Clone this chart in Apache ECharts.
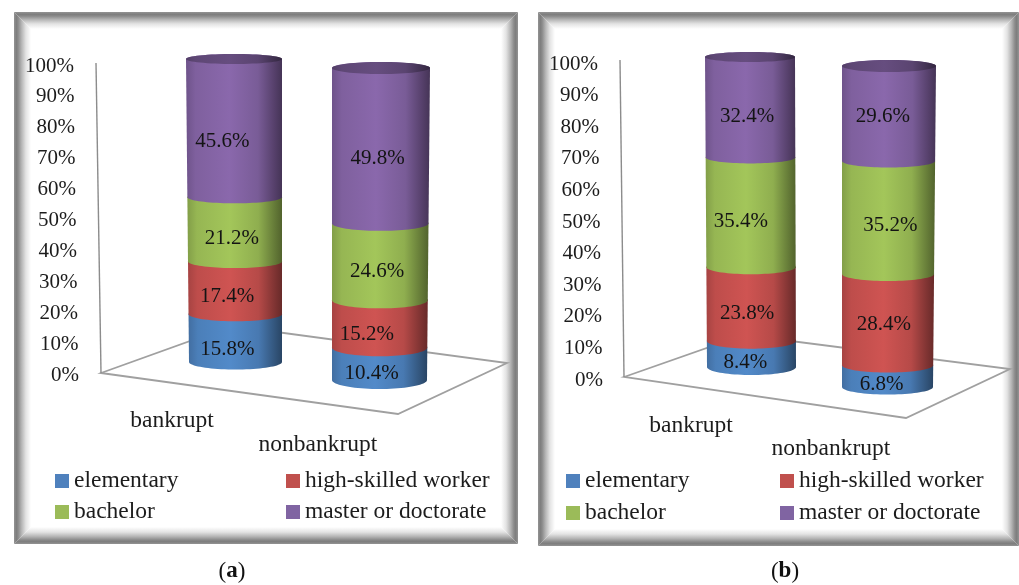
<!DOCTYPE html>
<html><head><meta charset="utf-8">
<style>html,body{margin:0;padding:0;background:#fff}#c{width:1019px;height:585px}</style>
<script src="https://cdn.jsdelivr.net/npm/echarts@6/dist/echarts.min.js"></script>
</head><body><div id="c"></div>
<script>
// ---------- data ----------
const categories = ['bankrupt', 'nonbankrupt'];
const seriesNames = ['elementary', 'high-skilled worker', 'bachelor', 'master or doctorate'];
const tickLabels = ['0%','10%','20%','30%','40%','50%','60%','70%','80%','90%','100%'];
const aElementary = [15.8, 10.4];
const aHighSkilled = [17.4, 15.2];
const aBachelor = [21.2, 24.6];
const aMaster = [45.6, 49.8];
const bElementary = [8.4, 6.8];
const bHighSkilled = [23.8, 28.4];
const bBachelor = [35.4, 35.2];
const bMaster = [32.4, 29.6];
const captions = ['a', 'b'];

// ---------- styling / layout ----------
const FONT = '"Liberation Serif", serif';
const TXT = '#1c1c1c';
const colors = ['#4f81bd', '#c0504d', '#9bbb59', '#8064a2'];
const lightColors = [[82,138,201],[207,84,82],[163,198,90],[138,104,172]];
const shade = [[0,.80],[.1,.92],[.45,1],[.75,.88],[.92,.62],[1,.5]];
const panelLayouts = [
  { frame:[14,12,504,532], wall:[[96,63],[101,373]],
    floor:[[101,373],[232,326],[507,363],[398,414]],
    axis:{left:84, top:66, bottom:375},
    legendX:[55,286], legendY:[480,511], captionX:232,
    bars:[
      {labelX:172,labelY:421,top:59,base:362,cxT:234,cxB:235.5,rxT:48,rxB:46.5,ryT:5,ryB:7.5,
       off:[[-8,11.5],[-8,8.5],[-3,9.5],[-12,13.5]]},
      {labelX:318,labelY:445,top:68,base:380,cxT:381,cxB:379.5,rxT:49,rxB:47.5,ryT:6,ryB:9,
       off:[[-8,9.5],[-13,10.5],[-3,9.5],[-3,12.5]]}
    ]},
  { frame:[538,12,481,534], wall:[[620,60],[624,377]],
    floor:[[624,377],[744,335],[1010,369],[906,418]],
    axis:{left:608, top:64, bottom:380},
    legendX:[566,780], legendY:[480,512], captionX:785,
    bars:[
      {labelX:691,labelY:426,top:57,base:367,cxT:750,cxB:751.5,rxT:45,rxB:44.5,ryT:5,ryB:8,
       off:[[-6,9],[-4,9.5],[-10,9.5],[-3,9]]},
      {labelX:831,labelY:449,top:66,base:387,cxT:889,cxB:887.5,rxT:47,rxB:45.5,ryT:6,ryB:7.5,
       off:[[-6,8],[-4,5],[2,8],[-6,2.5]]}
    ]}
];
const panelValues = [
  [aElementary, aHighSkilled, aBachelor, aMaster],
  [bElementary, bHighSkilled, bBachelor, bMaster]
];

const el = echarts.init(document.getElementById('c'), null, {renderer:'canvas'});
const grids = [], xAxes = [], yAxes = [], series = [], legends = [], graphics = [], titles = [];
const FRAME_DEPTH = 17;
const frameStops = [[0,'#939393'],[.14,'#7e7e7e'],[.24,'#8a8a8a'],[.45,'#b6b6b6'],[.7,'#e3e3e3'],[1,'#ffffff']];

function grad(rgb, f){
  const stops = shade.map(([o,k]) => ({offset:o, color:`rgb(${rgb.map(c=>Math.round(c*k*(f||1))).join(',')})`}));
  return new echarts.graphic.LinearGradient(0,0,1,0,stops);
}
function frameStrip(points, x0, y0, x1, y1){
  const stops = frameStops.map(([o,c]) => ({offset:o, color:c}));
  graphics.push({type:'polygon', z:-9, shape:{points},
    style:{fill:new echarts.graphic.LinearGradient(x0,y0,x1,y1,stops,true)}});
}

panelLayouts.forEach((p, pi) => {
  const [fx,fy,fw,fh] = p.frame, d = FRAME_DEPTH;
  const L=fx, T=fy, R=fx+fw, B=fy+fh;
  frameStrip([[L,T],[R,T],[R-d,T+d],[L+d,T+d]], 0,T,0,T+d);
  frameStrip([[L,B],[R,B],[R-d,B-d],[L+d,B-d]], 0,B,0,B-d);
  frameStrip([[L,T],[L+d,T+d],[L+d,B-d],[L,B]], L,0,L+d,0);
  frameStrip([[R,T],[R-d,T+d],[R-d,B-d],[R,B]], R,0,R-d,0);
  graphics.push({type:'polygon', z:-5, shape:{points:p.floor}, style:{fill:'none', stroke:'#a0a0a0', lineWidth:1.8}});
  graphics.push({type:'polyline', z:-5, shape:{points:p.wall}, style:{fill:'none', stroke:'#8c8c8c', lineWidth:1.4}});

  // value axis (slanted labels via per-tick padding)
  const axisGrid = grids.length;
  grids.push({left:p.axis.left, width:10, top:p.axis.top, height:p.axis.bottom-p.axis.top});
  xAxes.push({gridIndex:axisGrid, type:'category', show:false, data:['']});
  const rich = {};
  tickLabels.forEach((t,i)=>{ rich['t'+i] = {padding:[0,i*0.5,0,0], fontFamily:FONT, fontSize:21, color:TXT}; });
  yAxes.push({gridIndex:axisGrid, type:'value', min:0, max:100, interval:10,
    axisLine:{show:false}, axisTick:{show:false}, splitLine:{show:false},
    axisLabel:{margin:5, align:'right',
      formatter:(v)=>`{t${v/10}|${tickLabels[v/10]}}`, rich}});

  // cylinders: one hidden-scale grid per category
  p.bars.forEach((b, bi) => {
    const g = grids.length;
    grids.push({left:b.labelX-50, width:100, top:b.top, height:b.base-b.top});
    xAxes.push({gridIndex:g, type:'category', data:[categories[bi]],
      axisLine:{show:false}, axisTick:{show:false},
      axisLabel:{margin:b.labelY-b.base-12, fontFamily:FONT, fontSize:23.5, color:TXT, interval:0}});
    yAxes.push({gridIndex:g, type:'value', min:0, max:100, show:false});
    let acc = 0;
    panelValues[pi].forEach((vals, si) => {
      const start = acc, end = acc + vals[bi];
      acc = end;
      const isTop = si === panelValues[pi].length - 1;
      series.push({
        type:'custom', name:seriesNames[si], xAxisIndex:g, yAxisIndex:g, coordinateSystem:'cartesian2d',
        itemStyle:{color:colors[si]}, clip:false, silent:true,
        data:[[0, start, end, vals[bi]]],
        encode:{x:0, y:[1,2]},
        renderItem:(params, api) => {
          const y0 = api.coord([0, api.value(1)])[1];
          const y1 = api.coord([0, api.value(2)])[1];
          const geo = y => {
            const t = (y - b.top) / (b.base - b.top);
            return {cx:b.cxT+(b.cxB-b.cxT)*t, rx:b.rxT+(b.rxB-b.rxT)*t, ry:b.ryT+(b.ryB-b.ryT)*t};
          };
          const g0 = geo(y0), g1 = geo(y1), pts = [];
          const N = 40;
          for (let i=0;i<=N;i++){ const a=Math.PI*i/N;
            pts.push([g0.cx-g0.rx*Math.cos(a), y0+g0.ry*Math.sin(a)]); }
          for (let i=0;i<=N;i++){ const a=Math.PI*i/N;
            pts.push([g1.cx+g1.rx*Math.cos(a), y1-g1.ry*Math.sin(a)]); }
          const kids = [{type:'polygon', shape:{points:pts}, z2:si+1,
            style:{fill:grad(lightColors[si])}}];
          if (isTop) kids.push({type:'ellipse', z2:si+2,
            shape:{cx:g1.cx, cy:y1, rx:g1.rx, ry:g1.ry},
            style:{fill:grad(lightColors[si], .74)}});
          const o = b.off[si], ym=(y0+y1)/2, gm=geo(ym);
          kids.push({type:'text', z2:100, x:gm.cx+o[0], y:ym+o[1],
            style:{text:api.value(3).toFixed(1)+'%', font:`21px ${FONT}`, fill:'#141414', align:'center', verticalAlign:'middle'}});
          return {type:'group', children:kids};
        }
      });
    });
  });

  // legend: 2×2
  seriesNames.forEach((n, i) => {
    legends.push({data:[{name:n, icon:'rect', itemStyle:{color:colors[i]}}],
      left:p.legendX[i%2], top:p.legendY[(i/2)|0]-12, selectedMode:false, padding:0,
      itemWidth:14, itemHeight:14, itemGap:0,
      textStyle:{fontFamily:FONT, fontSize:23.5, color:TXT, lineHeight:26}});
  });

  titles.push({text:`({b|${captions[pi]}})`, left:p.captionX, top:560, textAlign:'center', padding:0,
    textStyle:{fontFamily:FONT, fontSize:23, fontWeight:'normal', color:'#111',
      rich:{b:{fontFamily:FONT, fontSize:23, fontWeight:'bold', color:'#111'}}}});
});

el.setOption({
  animation:false, backgroundColor:'#fff',
  title:titles, grid:grids, xAxis:xAxes, yAxis:yAxes, legend:legends, series,
  graphic:{elements:graphics}
});
</script></body></html>
